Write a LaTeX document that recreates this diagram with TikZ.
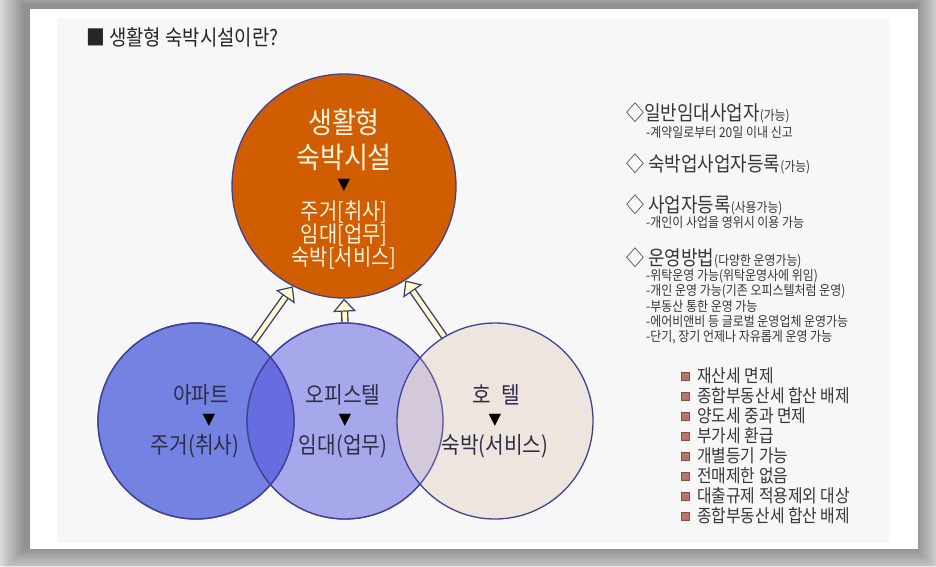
\documentclass[tikz,border=0pt]{standalone}
\usepackage{fontspec}
\setmainfont{Noto Sans CJK KR}[FakeStretch=0.88]
\usetikzlibrary{arrows.meta, positioning, backgrounds}

\definecolor{framebg}{RGB}{218,218,218}
\definecolor{panelin}{RGB}{247,247,247}
\definecolor{hubfill}{RGB}{208,94,0}
\definecolor{hubtext}{RGB}{255,242,222}
\definecolor{ringline}{RGB}{66,66,148}
\definecolor{aptfill}{RGB}{116,130,226}
\definecolor{offfill}{RGB}{89,89,225}
\definecolor{htlfill}{RGB}{235,220,211}
\definecolor{arrowfill}{RGB}{255,250,205}
\definecolor{arrowline}{RGB}{60,60,110}
\definecolor{labeltext}{RGB}{45,45,72}
\definecolor{infotext}{RGB}{55,55,55}
\definecolor{bullet}{RGB}{178,120,106}
\definecolor{bulletline}{RGB}{130,80,70}

\newcommand{\smallnote}[1]{{\fontsize{13.5}{15}\selectfont#1}}

\begin{document}
\begin{tikzpicture}[
  x=1pt, y=-1pt,
  hub/.style={circle, draw=ringline, line width=1.3pt, fill=hubfill,
    minimum size=224pt, inner sep=0pt},
  ring/.style={circle, draw=ringline, line width=1.3pt,
    minimum size=196pt, inner sep=0pt},
  hubname/.style={align=center, text=hubtext, inner sep=0pt,
    font=\fontsize{29.5}{35}\selectfont},
  hubuses/.style={align=center, text=hubtext, inner sep=0pt,
    font=\fontsize{22.5}{23}\selectfont},
  ringlabel/.style={text=labeltext, inner sep=0pt,
    font=\fontsize{23}{26}\selectfont},
  tri/.style={inner sep=0pt, font=\fontsize{15}{18}\selectfont},
  hollow/.style={draw=arrowline, line width=7.4pt, shorten >=10pt,
    postaction={draw=arrowfill, line width=4.6pt, shorten >=9pt},
    postaction={draw=arrowfill, line width=0.4pt, shorten >=0pt,
      -{Triangle[width=23pt, length=13pt, color=arrowline,
        fill=arrowfill, line width=1.2pt]}}},
  info/.style={anchor=west, inner sep=0pt, text=infotext,
    font=\fontsize{20.4}{24}\selectfont},
  infosub/.style={anchor=west, inner sep=0pt, text=infotext,
    font=\fontsize{13.6}{15}\selectfont},
  perk/.style={anchor=west, inner sep=0pt, text=infotext,
    font=\fontsize{18}{21}\selectfont},
  perkbox/.style={fill=bullet, draw=bulletline, line width=0.5pt,
    minimum size=8pt, inner sep=0pt},
  ]
  \useasboundingbox (0,0) rectangle (936,566);

  % --- frame with soft shadow ---
  \begin{scope}[on background layer]
    \fill[framebg] (0,0) rectangle (936,566);
    \foreach \r in {2,4,...,24}
      \fill[black, opacity=0.03] (26-\r,7-\r) rectangle (914+\r,547+\r);
    \fill[white] (30,9) rectangle (918,549);
    \fill[panelin] (57,18) rectangle (890,543);
  \end{scope}

  % --- heading ---
  \node[anchor=west, inner sep=0pt, text=black!85,
    font=\fontsize{21.4}{25}\selectfont] (heading) at (86,37)
    {■ 생활형 숙박시설이란?};

  % --- central circle ---
  \node[hub] (hub) at (344,186) {};
  \node[hubname] (hubtitle) at (344,140) {생활형\\숙박시설};
  \node[tri, text=black] (hubtri) at (344,185) {▼};
  \node[hubuses] (hubtypes) at (344,235) {주거[취사]\\임대[업무]\\숙박[서비스]};

  % --- three source circles (overlapping) ---
  \node[ring, fill=aptfill] (apt) at (196,421) {};
  \node[ring, fill=offfill, fill opacity=0.5] (office) at (345,421) {};
  \node[ring, fill=htlfill, fill opacity=0.65] (hotel) at (495,421) {};
  \node[ring] (aptrim) at (apt) {};
  \node[ring, draw opacity=0.75] (officerim) at (office) {};

  \node[ringlabel] (aptname) at (201,395) {아파트};
  \node[tri] (apttri) at (209,420) {▼};
  \node[ringlabel] (aptuse) at (195,446) {주거(취사)};

  \node[ringlabel] (officename) at (343,395) {오피스텔};
  \node[tri] (officetri) at (345,420) {▼};
  \node[ringlabel] (officeuse) at (343,446) {임대(업무)};

  \node[ringlabel] (hotelname) at (496,395) {호\hspace{0.45em}텔};
  \node[tri] (hoteltri) at (495,420) {▼};
  \node[ringlabel] (hoteluse) at (495,446) {숙박(서비스)};

  % --- hollow arrows into the central circle (behind the rings) ---
  \begin{scope}[on background layer]
    \draw[hollow] (apt.54) -- (hub.243);
    \draw[hollow] (office.90) -- (hub.270);
    \draw[hollow] (hotel.121) -- (hub.303);
  \end{scope}

  % --- registration notes ---
  \node[info] (reg1) at (626,113) {◇일반임대사업자\smallnote{(가능)}};
  \node[infosub] (reg1note) at (646,132) {-계약일로부터 20일 이내 신고};
  \node[info] (reg2) at (626,164) {◇ 숙박업사업자등록\smallnote{(가능)}};
  \node[info] (reg3) at (626,205) {◇ 사업자등록\smallnote{(사용가능)}};
  \node[infosub] (reg3note) at (646,222) {-개인이 사업을 영위시 이용 가능};
  \node[info] (reg4) at (626,258) {◇ 운영방법\smallnote{(다양한 운영가능)}};
  \foreach \txt [count=\i] in {%
      -위탁운영 가능(위탁운영사에 위임),
      -개인 운영 가능(기존 오피스텔처럼 운영),
      -부동산 통한 운영 가능,
      -에어비앤비 등 글로벌 운영업체 운영가능,
      -단기{,} 장기 언제나 자유롭게 운영 가능}
    \node[infosub] (reg4note\i) at (646,260.5+15.3*\i) {\txt};

  % --- tax and loan benefits ---
  \foreach \txt [count=\i] in {재산세 면제, 종합부동산세 합산 배제,
      양도세 중과 면제, 부가세 환급, 개별등기 가능, 전매제한 없음,
      대출규제 적용제외 대상, 종합부동산세 합산 배제} {
    \node[perkbox] (perkbox\i) at (685,356+20*\i) {};
    \node[perk] (perk\i) at (697,356+20*\i) {\txt};
  }
\end{tikzpicture}
\end{document}
